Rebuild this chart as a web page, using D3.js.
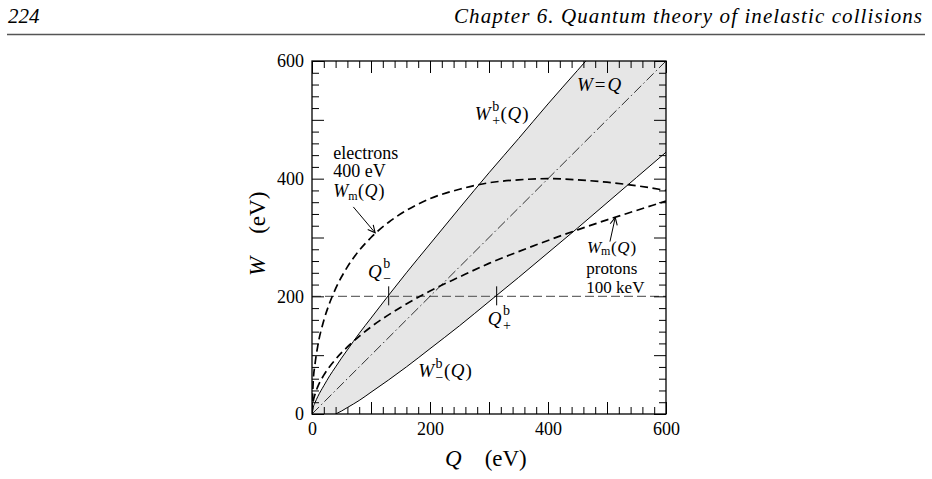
<!DOCTYPE html>
<html>
<head>
<script src="https://d3js.org/d3.v7.min.js"></script>
<style>
  body { margin: 0; background: #fff; }
</style>
</head>
<body>
<div id="chart"></div>
<script>
// Bethe ridge boundaries W+^b(Q), W-^b(Q)
var Q_RIDGE = [0, 2, 5, 10, 20, 30, 40, 50, 60, 80, 100, 130, 160, 200, 250, 300, 350, 400, 450, 500, 550, 600];
var W_PLUS  = [0, 11, 19, 30, 48, 65, 80, 95, 109, 137, 163, 202, 240, 289, 350, 410, 468, 527, 584, 641, 698, 755];
var W_MINUS = [0, 0, 0, 0, 0, 0, 0, 5, 11, 23, 37, 58, 80, 111, 150, 191, 232, 274, 316, 359, 402, 445];

// W_m(Q) for 400 eV electrons
var Q_ELEC = [0, 2, 5, 10, 20, 30, 40, 60, 80, 100, 130, 160, 200, 250, 300, 350, 400, 450, 500, 550, 600];
var W_ELEC = [0, 55, 84, 117, 159, 189, 213, 250, 278, 300, 326, 346, 366, 382, 393, 398, 400, 398, 394, 388, 380];

// W_m(Q) for 100 keV protons
var Q_PROT = [0, 2, 5, 10, 20, 40, 60, 80, 100, 150, 200, 250, 300, 350, 400, 450, 500, 550, 600];
var W_PROT = [0, 21, 33, 47, 66, 93, 114, 132, 148, 181, 209, 233, 256, 276, 295, 313, 330, 346, 362];

// W = Q diagonal, the W = 200 eV level and the Q-/Q+ crossings on it
var Q_DIAG = [0, 600];
var W_LEVEL = 200;
var Q_CROSS = [130, 313];

var MAJOR_TICKS = [0, 100, 200, 300, 400, 500, 600];
var TICK_LABELS = ["0", "", "200", "", "400", "", "600"];
var MINOR_TICKS = d3.range(20, 600, 20).filter(function (d) { return d % 100 !== 0; });

var FONT = "'Liberation Serif', 'Times New Roman', Times, serif";

var W = 932, H = 479;
var svg = d3.select("#chart").append("svg")
    .attr("width", W).attr("height", H);
svg.append("rect").attr("width", W).attr("height", H).attr("fill", "#fff");

function label(parent, x, y, str, size, italic) {
  return parent.append("text")
      .attr("x", x).attr("y", y)
      .style("font-family", FONT)
      .style("font-size", size + "px")
      .style("font-style", italic ? "italic" : "normal")
      .attr("fill", "#000")
      .text(str);
}

// page header
label(svg, 8, 23, "224", 21, true);
label(svg, 922, 23, "Chapter 6.  Quantum theory of inelastic collisions", 21, true)
    .attr("text-anchor", "end")
    .attr("textLength", 468).attr("lengthAdjust", "spacing");
svg.append("line")
    .attr("x1", 7).attr("x2", 925).attr("y1", 34.5).attr("y2", 34.5)
    .attr("stroke", "#555").attr("stroke-width", 1.3);

var x = d3.scaleLinear().domain([0, 600]).range([312, 666]);
var y = d3.scaleLinear().domain([0, 600]).range([414, 61]);

svg.append("clipPath").attr("id", "plotclip")
  .append("rect")
    .attr("x", x(0)).attr("y", y(600))
    .attr("width", x(600) - x(0)).attr("height", y(0) - y(600));

var plot = svg.append("g").attr("clip-path", "url(#plotclip)");

var ridge = Q_RIDGE.map(function (q, i) { return { q: q, hi: W_PLUS[i], lo: W_MINUS[i] }; });
var elec = Q_ELEC.map(function (q, i) { return { q: q, w: W_ELEC[i] }; });
var prot = Q_PROT.map(function (q, i) { return { q: q, w: W_PROT[i] }; });
var diag = Q_DIAG.map(function (q) { return { q: q, w: q }; });

// shaded ridge
plot.append("path")
    .datum(ridge)
    .attr("fill", "#e6e6e6")
    .attr("d", d3.area()
        .curve(d3.curveMonotoneX)
        .x(function (d) { return x(d.q); })
        .y0(function (d) { return y(d.lo); })
        .y1(function (d) { return y(d.hi); }));

// W = 200 level
plot.append("line")
    .attr("x1", x(0)).attr("x2", x(600))
    .attr("y1", y(W_LEVEL)).attr("y2", y(W_LEVEL))
    .attr("stroke", "#6a6a6a").attr("stroke-width", 1.1)
    .attr("stroke-dasharray", "9,4");

var line = d3.line()
    .curve(d3.curveMonotoneX)
    .x(function (d) { return x(d.q); })
    .y(function (d) { return y(d.w); });

// W = Q
plot.append("path")
    .datum(diag)
    .attr("fill", "none").attr("stroke", "#000").attr("stroke-width", 0.8)
    .attr("stroke-dasharray", "10,3,1.5,3")
    .attr("d", line);

// ridge boundaries
plot.append("path")
    .datum(ridge)
    .attr("fill", "none").attr("stroke", "#000").attr("stroke-width", 1)
    .attr("d", d3.line().curve(d3.curveMonotoneX)
        .x(function (d) { return x(d.q); })
        .y(function (d) { return y(d.hi); }));
plot.append("path")
    .datum(ridge.filter(function (d) { return d.lo > 0 || d.q === 40; }))
    .attr("fill", "none").attr("stroke", "#000").attr("stroke-width", 1)
    .attr("d", d3.line().curve(d3.curveMonotoneX)
        .x(function (d) { return x(d.q); })
        .y(function (d) { return y(d.lo); }));

// W_m curves
[elec, prot].forEach(function (data) {
  plot.append("path")
      .datum(data)
      .attr("fill", "none").attr("stroke", "#000").attr("stroke-width", 1.7)
      .attr("stroke-dasharray", "8,4.5")
      .attr("d", line);
});

// crossing marks
svg.selectAll(".cross")
    .data(Q_CROSS)
  .enter().append("line")
    .attr("class", "cross")
    .attr("x1", function (d) { return x(d); })
    .attr("x2", function (d) { return x(d); })
    .attr("y1", y(W_LEVEL) - 10).attr("y2", y(W_LEVEL) + 9)
    .attr("stroke", "#000").attr("stroke-width", 1);

// axes: ticks inward on all four sides
function styleAxis(g) {
  g.select(".domain").remove();
  g.selectAll(".tick line").attr("stroke", "#000").attr("stroke-width", 1);
  g.selectAll(".tick text").style("font-size", "18px").style("font-family", FONT);
}
function fmt(d) { return TICK_LABELS[MAJOR_TICKS.indexOf(d)]; }

svg.append("g").attr("transform", "translate(0," + y(0) + ")")
    .call(d3.axisBottom(x).tickValues(MAJOR_TICKS).tickSize(-12).tickPadding(8).tickFormat(fmt))
    .call(styleAxis);
svg.append("g").attr("transform", "translate(0," + y(0) + ")")
    .call(d3.axisBottom(x).tickValues(MINOR_TICKS).tickSize(-7).tickFormat(""))
    .call(styleAxis);
svg.append("g").attr("transform", "translate(0," + y(600) + ")")
    .call(d3.axisTop(x).tickValues(MAJOR_TICKS).tickSize(-12).tickFormat(""))
    .call(styleAxis);
svg.append("g").attr("transform", "translate(0," + y(600) + ")")
    .call(d3.axisTop(x).tickValues(MINOR_TICKS).tickSize(-7).tickFormat(""))
    .call(styleAxis);
svg.append("g").attr("transform", "translate(" + x(0) + ",0)")
    .call(d3.axisLeft(y).tickValues(MAJOR_TICKS).tickSize(-12).tickPadding(8).tickFormat(fmt))
    .call(styleAxis);
svg.append("g").attr("transform", "translate(" + x(0) + ",0)")
    .call(d3.axisLeft(y).tickValues(MINOR_TICKS).tickSize(-7).tickFormat(""))
    .call(styleAxis);
svg.append("g").attr("transform", "translate(" + x(600) + ",0)")
    .call(d3.axisRight(y).tickValues(MAJOR_TICKS).tickSize(-12).tickFormat(""))
    .call(styleAxis);
svg.append("g").attr("transform", "translate(" + x(600) + ",0)")
    .call(d3.axisRight(y).tickValues(MINOR_TICKS).tickSize(-7).tickFormat(""))
    .call(styleAxis);

svg.append("rect")
    .attr("x", x(0)).attr("y", y(600))
    .attr("width", x(600) - x(0)).attr("height", y(0) - y(600))
    .attr("fill", "none").attr("stroke", "#000").attr("stroke-width", 1.3);

// math-ish labels built from pieces
function mathText(x0, y0, parts, size) {
  size = size || 19;
  var g = svg.append("g");
  var cx = x0, stackW = 0;
  parts.forEach(function (p) {
    var t = label(g, cx + (p.dx || 0), y0 + (p.dy || 0), p.t, p.fs || size, p.it);
    var w = t.node().getComputedTextLength() + (p.dx || 0) + (p.pad || 0);
    if (p.stack) {
      stackW = w;
    } else {
      cx += Math.max(w, stackW);
      stackW = 0;
    }
  });
  return g;
}
function supSub(sub) {
  return [
    { t: "W", it: true, pad: 1.5 },
    { t: "b", fs: 14, dy: -9, stack: true },
    { t: sub, fs: 14, dy: 5, pad: 0.5 },
    { t: "(", pad: 0.5 },
    { t: "Q", it: true, pad: 1 },
    { t: ")" }
  ];
}
function wm(sdy) {
  return [
    { t: "W", it: true },
    { t: "m", fs: 12, dy: sdy || 3.5, pad: 0.5 },
    { t: "(", pad: 0.5 },
    { t: "Q", it: true, pad: 1 },
    { t: ")" }
  ];
}
function qb(sub) {
  return [
    { t: "Q", it: true, pad: 1.5 },
    { t: "b", fs: 14, dy: -10, stack: true },
    { t: sub, fs: 14, dy: 5 }
  ];
}

mathText(x(449), y(549), [
  { t: "W", it: true, pad: 2 }, { t: "=", pad: 2 }, { t: "Q", it: true }
]);
mathText(x(276), y(500), supSub("+"));
mathText(x(180), y(63), supSub("\u2212"));
mathText(x(95), y(231), qb("\u2212"));
mathText(x(298), y(151), qb("+"));

// electrons
label(svg, x(36), y(433), "electrons", 18, false);
label(svg, x(36), y(402), "400 eV", 18, false);
mathText(x(36), y(369), wm(), 18);

// protons
mathText(x(466), y(274), wm(2.5), 17);
label(svg, x(465), y(238), "protons", 17, false);
label(svg, x(465), y(205), "100 keV", 17, false);

// arrows
svg.append("defs").append("marker")
    .attr("id", "head")
    .attr("viewBox", "0 -5 10 10")
    .attr("refX", 9).attr("refY", 0)
    .attr("markerWidth", 9).attr("markerHeight", 9)
    .attr("markerUnits", "userSpaceOnUse")
    .attr("orient", "auto")
  .append("path")
    .attr("d", "M1,-4L9,0L1,4")
    .attr("fill", "none").attr("stroke", "#000").attr("stroke-width", 1.2);

[[70, 352, 107, 308], [505, 293, 514, 334]].forEach(function (a) {
  svg.append("line")
      .attr("x1", x(a[0])).attr("y1", y(a[1]))
      .attr("x2", x(a[2])).attr("y2", y(a[3]))
      .attr("stroke", "#000").attr("stroke-width", 1)
      .attr("marker-end", "url(#head)");
});

// axis titles
mathText(445, 466, [
  { t: "Q", it: true }, { t: "\u2002\u2002(eV)" }
], 23);
var wt = svg.append("g").attr("transform", "translate(265,276) rotate(-90)");
mathText(0, 0, [
  { t: "W", it: true }, { t: "\u2002\u2002(eV)" }
], 23).remove().each(function () { wt.node().appendChild(this); });
</script>
</body>
</html>
